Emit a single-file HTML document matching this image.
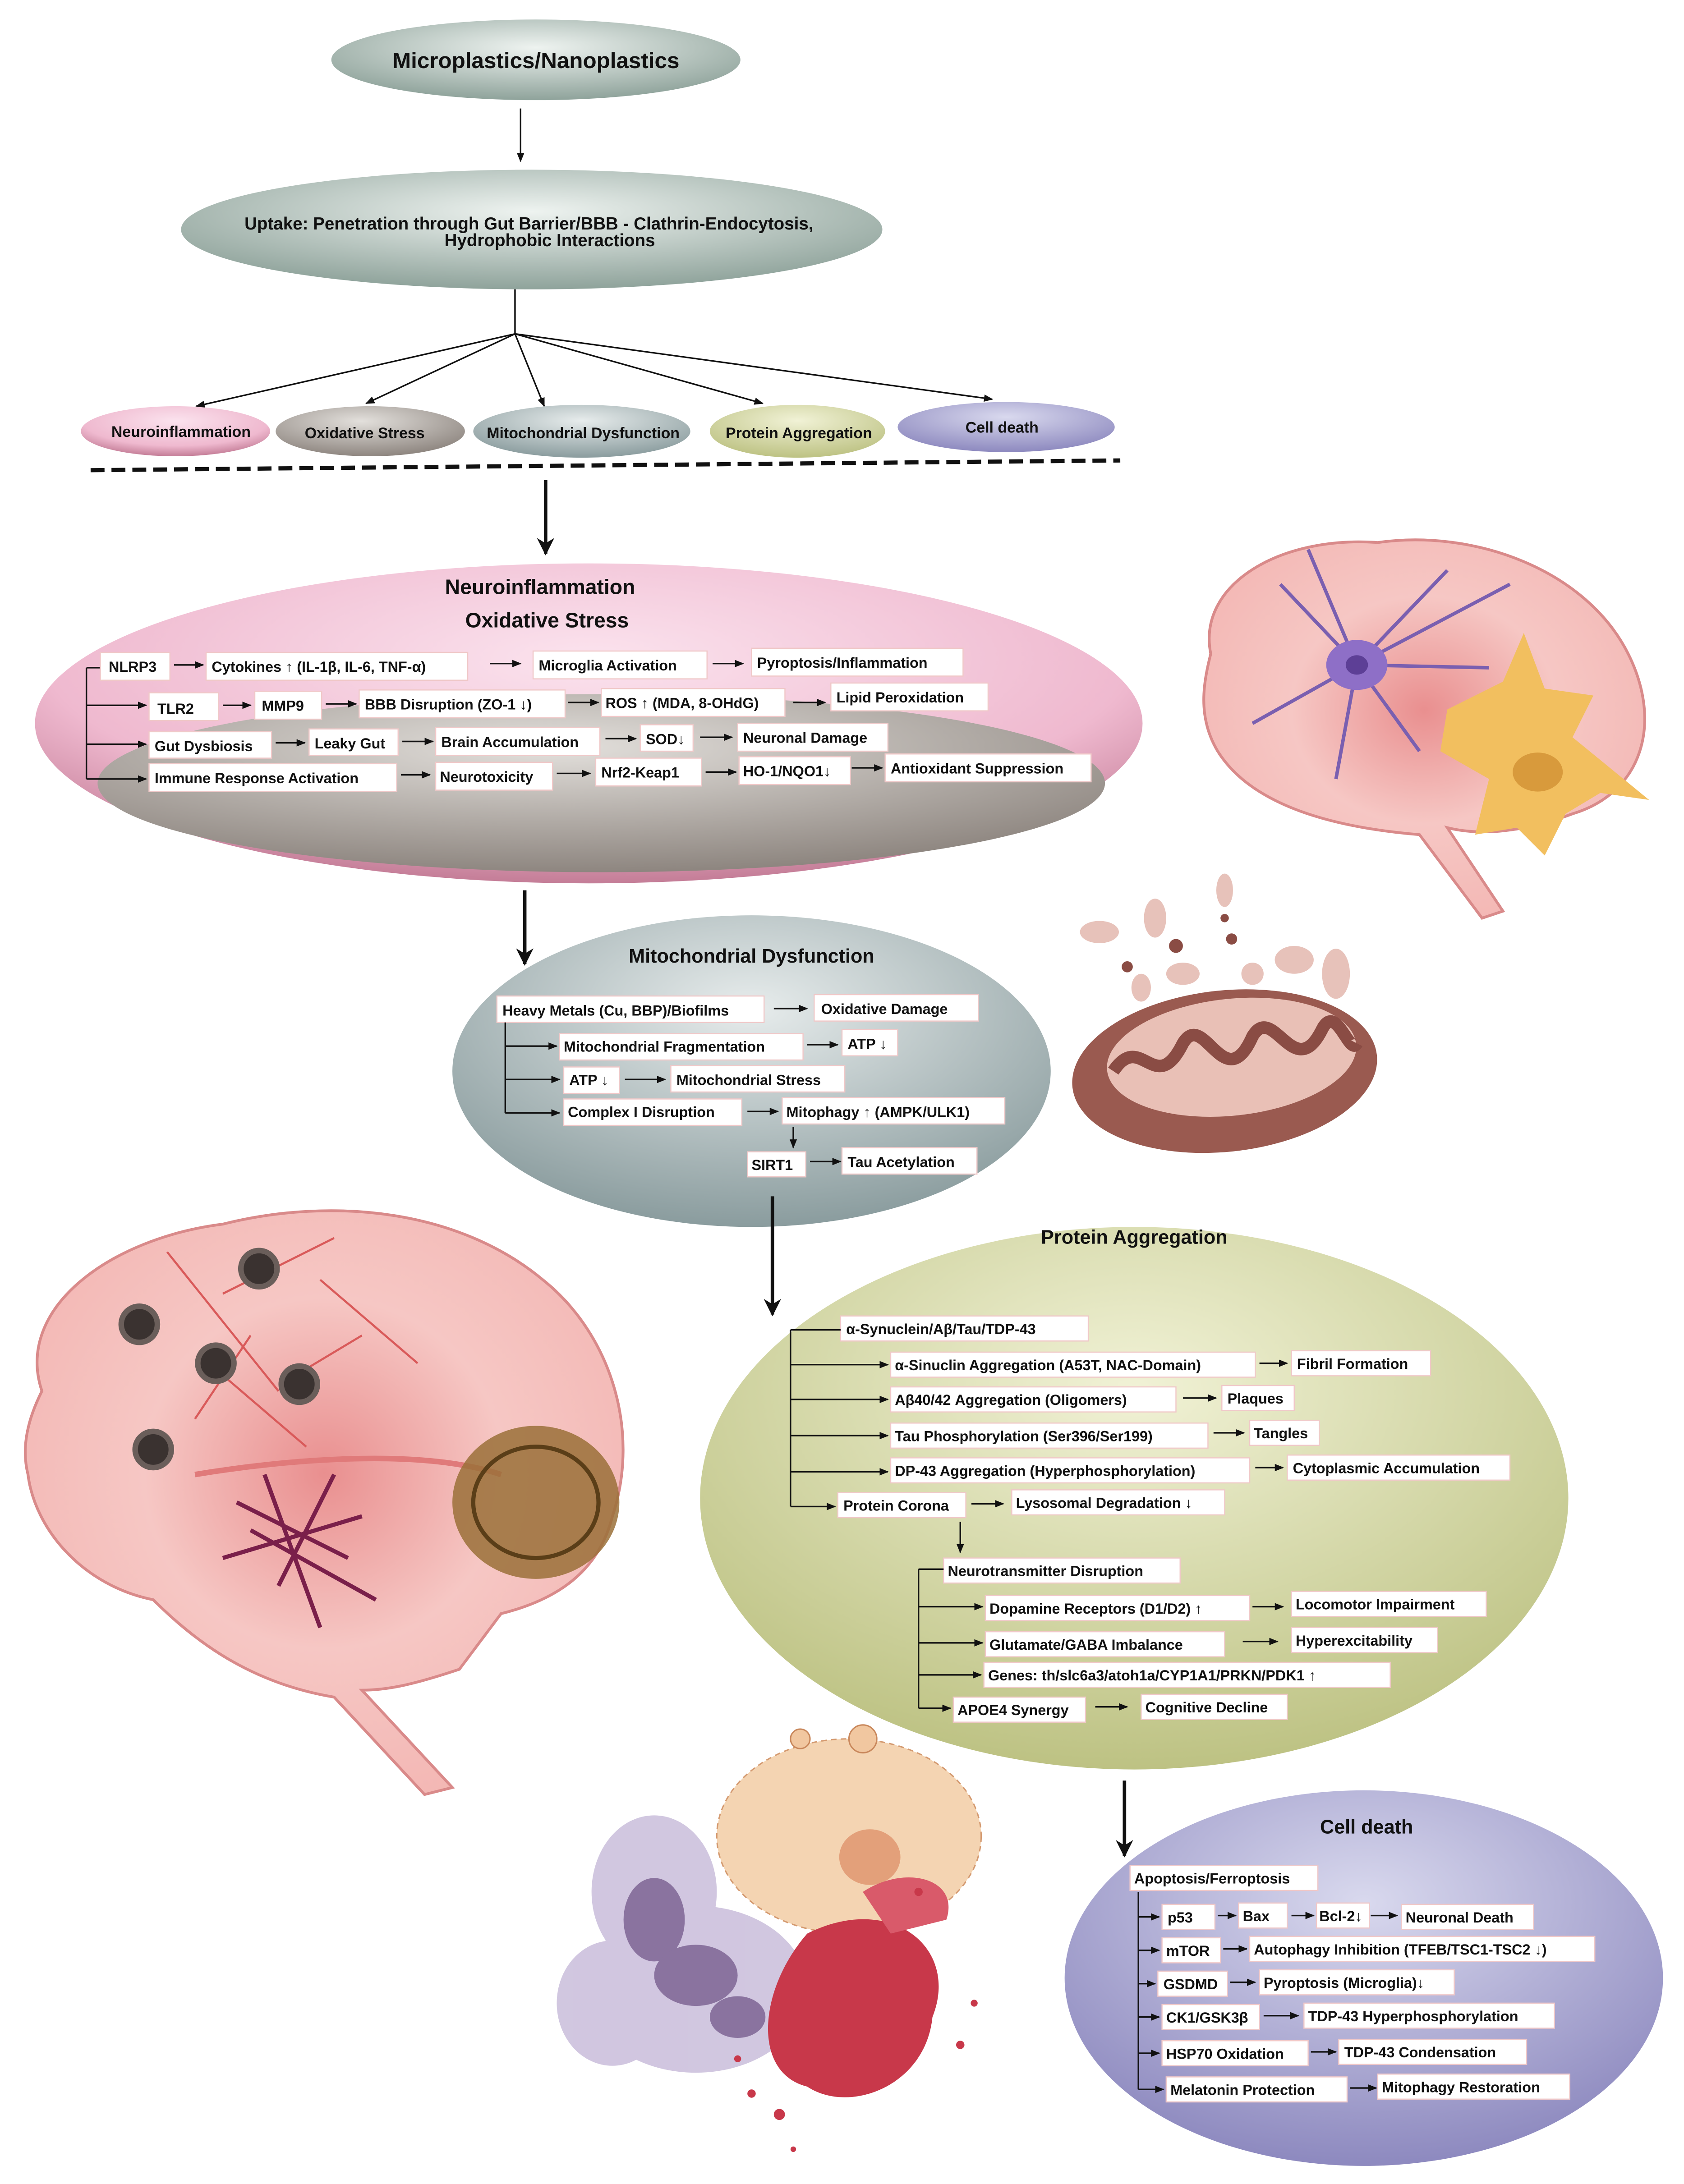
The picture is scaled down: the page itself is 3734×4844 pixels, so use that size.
<!DOCTYPE html>
<html><head><meta charset="utf-8">
<style>
html,body{margin:0;padding:0;background:#fff;}
svg{display:block;}
text{font-family:"Liberation Sans",sans-serif;font-weight:bold;fill:#111;}
.b{fill:#fff;stroke:#f0c8c8;stroke-width:0.8;}
.t{font-size:10.5px;}
.l{stroke:#111;stroke-width:1.1;fill:none;}
</style></head>
<body>
<svg width="3734" height="4844" viewBox="0 0 1210 1570" xmlns="http://www.w3.org/2000/svg">
<defs>
<marker id="a" viewBox="0 0 10 10" refX="9" refY="5" markerWidth="6" markerHeight="6" orient="auto"><path d="M0,1 L10,5 L0,9 z" fill="#111"/></marker>
<marker id="A" viewBox="0 0 10 10" refX="9" refY="5" markerWidth="5" markerHeight="5" orient="auto"><path d="M0,0 L10,5 L0,10 L3,5 z" fill="#111"/></marker>
<radialGradient id="gg" cx="0.5" cy="0.35" r="0.65"><stop offset="0" stop-color="#eef3f0"/><stop offset="1" stop-color="#8fa39b"/></radialGradient>
<radialGradient id="pk" cx="0.5" cy="0.3" r="0.7"><stop offset="0" stop-color="#fbe3ee"/><stop offset="0.7" stop-color="#efb9cf"/><stop offset="1" stop-color="#c47d97"/></radialGradient>
<radialGradient id="gy" cx="0.45" cy="0.3" r="0.7"><stop offset="0" stop-color="#e3e0dc"/><stop offset="1" stop-color="#8e8680"/></radialGradient>
<radialGradient id="bl" cx="0.5" cy="0.3" r="0.7"><stop offset="0" stop-color="#e7ecec"/><stop offset="1" stop-color="#8a9c9e"/></radialGradient>
<radialGradient id="yl" cx="0.5" cy="0.3" r="0.7"><stop offset="0" stop-color="#f1f2d6"/><stop offset="1" stop-color="#bdc283"/></radialGradient>
<radialGradient id="lv" cx="0.5" cy="0.3" r="0.7"><stop offset="0" stop-color="#d9d9ee"/><stop offset="1" stop-color="#8d89bf"/></radialGradient>
<radialGradient id="br" cx="0.5" cy="0.45" r="0.6"><stop offset="0" stop-color="#e98f8f"/><stop offset="0.5" stop-color="#f6c7c4"/><stop offset="1" stop-color="#f3b6b3"/></radialGradient>
</defs>

<!-- top -->
<ellipse cx="385" cy="43" rx="147" ry="29" fill="url(#gg)"/>
<text x="385" y="49" text-anchor="middle" font-size="16">Microplastics/Nanoplastics</text>
<line class="l" x1="374" y1="78" x2="374" y2="116" marker-end="url(#a)"/>
<ellipse cx="382" cy="165" rx="252" ry="43" fill="url(#gg)"/>
<text x="380" y="165" text-anchor="middle" font-size="12.5">Uptake: Penetration through Gut Barrier/BBB - Clathrin-Endocytosis,</text>
<text x="395" y="177" text-anchor="middle" font-size="12.5">Hydrophobic Interactions</text>
<line class="l" x1="370" y1="208" x2="370" y2="240"/>
<line class="l" x1="370" y1="240" x2="141" y2="292" marker-end="url(#a)"/>
<line class="l" x1="370" y1="240" x2="263" y2="290" marker-end="url(#a)"/>
<line class="l" x1="370" y1="240" x2="391" y2="292" marker-end="url(#a)"/>
<line class="l" x1="370" y1="240" x2="548" y2="290" marker-end="url(#a)"/>
<line class="l" x1="370" y1="240" x2="713" y2="287" marker-end="url(#a)"/>

<ellipse cx="126" cy="310" rx="68" ry="18" fill="url(#pk)"/>
<text x="130" y="314" text-anchor="middle" font-size="11">Neuroinflammation</text>
<ellipse cx="266" cy="310" rx="68" ry="18" fill="url(#gy)"/>
<text x="262" y="315" text-anchor="middle" font-size="11">Oxidative Stress</text>
<ellipse cx="418" cy="310" rx="78" ry="19" fill="url(#bl)"/>
<text x="419" y="315" text-anchor="middle" font-size="11">Mitochondrial Dysfunction</text>
<ellipse cx="573" cy="310" rx="63" ry="19" fill="url(#yl)"/>
<text x="574" y="315" text-anchor="middle" font-size="11">Protein Aggregation</text>
<ellipse cx="723" cy="307" rx="78" ry="18" fill="url(#lv)"/>
<text x="720" y="311" text-anchor="middle" font-size="11">Cell death</text>
<line x1="65" y1="338" x2="805" y2="331" stroke="#111" stroke-width="3" stroke-dasharray="10,5"/>
<line x1="392" y1="345" x2="392" y2="398" stroke="#111" stroke-width="2.5" marker-end="url(#A)"/>

<!-- neuro/oxidative -->
<ellipse cx="423" cy="520" rx="398" ry="115" fill="url(#pk)"/>
<ellipse cx="432" cy="563" rx="362" ry="64" fill="url(#gy)"/>
<text x="388" y="427" text-anchor="middle" font-size="15">Neuroinflammation</text>
<text x="393" y="451" text-anchor="middle" font-size="15">Oxidative Stress</text>
<g class="l"><line x1="62" y1="480" x2="62" y2="560"/><line x1="62" y1="480" x2="72" y2="480"/></g>
<line class="l" x1="62" y1="507" x2="105" y2="507" marker-end="url(#a)"/>
<line class="l" x1="62" y1="535" x2="105" y2="535" marker-end="url(#a)"/>
<line class="l" x1="62" y1="560" x2="105" y2="560" marker-end="url(#a)"/>

<rect class="b" x="72" y="469" width="50" height="20"/><text class="t" x="78" y="483">NLRP3</text>
<line class="l" x1="125" y1="478" x2="146" y2="478" marker-end="url(#a)"/>
<rect class="b" x="148" y="469" width="188" height="20"/><text class="t" x="152" y="483">Cytokines ↑ (IL-1β, IL-6, TNF-α)</text>
<line class="l" x1="352" y1="477" x2="374" y2="477" marker-end="url(#a)"/>
<rect class="b" x="383" y="468" width="125" height="20"/><text class="t" x="387" y="482">Microglia Activation</text>
<line class="l" x1="512" y1="477" x2="534" y2="477" marker-end="url(#a)"/>
<rect class="b" x="540" y="466" width="152" height="20"/><text class="t" x="544" y="480">Pyroptosis/Inflammation</text>

<rect class="b" x="107" y="498" width="50" height="20"/><text class="t" x="113" y="513">TLR2</text>
<line class="l" x1="160" y1="507" x2="180" y2="507" marker-end="url(#a)"/>
<rect class="b" x="183" y="497" width="48" height="20"/><text class="t" x="188" y="511">MMP9</text>
<line class="l" x1="234" y1="506" x2="256" y2="506" marker-end="url(#a)"/>
<rect class="b" x="258" y="496" width="148" height="20"/><text class="t" x="262" y="510">BBB Disruption (ZO-1 ↓)</text>
<line class="l" x1="408" y1="505" x2="430" y2="505" marker-end="url(#a)"/>
<rect class="b" x="432" y="495" width="132" height="20"/><text class="t" x="435" y="509">ROS ↑ (MDA, 8-OHdG)</text>
<line class="l" x1="570" y1="505" x2="593" y2="505" marker-end="url(#a)"/>
<rect class="b" x="597" y="491" width="113" height="20"/><text class="t" x="601" y="505">Lipid Peroxidation</text>

<rect class="b" x="107" y="526" width="88" height="19"/><text class="t" x="111" y="540">Gut Dysbiosis</text>
<line class="l" x1="198" y1="534" x2="219" y2="534" marker-end="url(#a)"/>
<rect class="b" x="222" y="524" width="64" height="19"/><text class="t" x="226" y="538">Leaky Gut</text>
<line class="l" x1="289" y1="533" x2="311" y2="533" marker-end="url(#a)"/>
<rect class="b" x="313" y="523" width="118" height="20"/><text class="t" x="317" y="537">Brain Accumulation</text>
<line class="l" x1="435" y1="531" x2="457" y2="531" marker-end="url(#a)"/>
<rect class="b" x="460" y="521" width="38" height="19"/><text class="t" x="464" y="535">SOD↓</text>
<line class="l" x1="503" y1="530" x2="526" y2="530" marker-end="url(#a)"/>
<rect class="b" x="530" y="520" width="108" height="20"/><text class="t" x="534" y="534">Neuronal Damage</text>

<rect class="b" x="107" y="549" width="178" height="20"/><text class="t" x="111" y="563">Immune Response Activation</text>
<line class="l" x1="288" y1="557" x2="309" y2="557" marker-end="url(#a)"/>
<rect class="b" x="313" y="548" width="84" height="20"/><text class="t" x="316" y="562">Neurotoxicity</text>
<line class="l" x1="400" y1="556" x2="424" y2="556" marker-end="url(#a)"/>
<rect class="b" x="428" y="545" width="76" height="20"/><text class="t" x="432" y="559">Nrf2-Keap1</text>
<line class="l" x1="507" y1="555" x2="529" y2="555" marker-end="url(#a)"/>
<rect class="b" x="531" y="544" width="80" height="20"/><text class="t" x="534" y="558">HO-1/NQO1↓</text>
<line class="l" x1="612" y1="552" x2="634" y2="552" marker-end="url(#a)"/>
<rect class="b" x="636" y="542" width="148" height="20"/><text class="t" x="640" y="556">Antioxidant Suppression</text>

<line x1="377" y1="640" x2="377" y2="693" stroke="#111" stroke-width="2.5" marker-end="url(#A)"/>

<!-- brain top right -->
<g>
<path d="M870,470 C860,420 920,385 990,390 C1060,380 1140,410 1170,470 C1195,520 1180,570 1130,585 C1090,600 1060,600 1040,595 L1080,655 L1065,660 L1020,600 C960,595 900,580 875,540 C860,515 865,490 870,470 Z" fill="url(#br)" stroke="#d98a8a" stroke-width="2"/>
<g stroke="#7a5fb0" stroke-width="2.5" fill="none">
<path d="M975,478 L920,420 M975,478 L1040,410 M975,478 L1070,480 M975,478 L900,520 M975,478 L960,560 M975,478 L1020,540 M975,478 L940,395 M975,478 L1085,420"/>
</g>
<ellipse cx="975" cy="478" rx="22" ry="18" fill="#8e6fc7"/>
<ellipse cx="975" cy="478" rx="8" ry="7" fill="#5d3f96"/>
<path d="M1040,510 L1080,490 L1095,455 L1110,495 L1145,500 L1130,530 L1185,575 L1150,570 L1125,585 L1110,615 L1090,595 L1060,600 L1070,560 L1035,540 Z" fill="#f2bf5f"/>
<ellipse cx="1105" cy="555" rx="18" ry="14" fill="#d89a3c"/>
</g>

<!-- mito -->
<ellipse cx="540" cy="770" rx="215" ry="112" fill="url(#bl)"/>
<text x="540" y="692" text-anchor="middle" font-size="14">Mitochondrial Dysfunction</text>
<rect class="b" x="357" y="716" width="192" height="19"/><text class="t" x="361" y="730">Heavy Metals (Cu, BBP)/Biofilms</text>
<line class="l" x1="556" y1="725" x2="580" y2="725" marker-end="url(#a)"/>
<rect class="b" x="585" y="715" width="118" height="19"/><text class="t" x="590" y="729">Oxidative Damage</text>
<line class="l" x1="363" y1="735" x2="363" y2="800"/>
<line class="l" x1="363" y1="752" x2="400" y2="752" marker-end="url(#a)"/>
<line class="l" x1="363" y1="776" x2="402" y2="776" marker-end="url(#a)"/>
<line class="l" x1="363" y1="800" x2="402" y2="800" marker-end="url(#a)"/>
<rect class="b" x="402" y="743" width="175" height="19"/><text class="t" x="405" y="756">Mitochondrial Fragmentation</text>
<line class="l" x1="580" y1="751" x2="602" y2="751" marker-end="url(#a)"/>
<rect class="b" x="605" y="740" width="40" height="19"/><text class="t" x="609" y="754">ATP ↓</text>
<rect class="b" x="405" y="767" width="40" height="19"/><text class="t" x="409" y="780">ATP ↓</text>
<line class="l" x1="449" y1="776" x2="478" y2="776" marker-end="url(#a)"/>
<rect class="b" x="482" y="766" width="125" height="19"/><text class="t" x="486" y="780">Mitochondrial Stress</text>
<rect class="b" x="405" y="790" width="128" height="19"/><text class="t" x="408" y="803">Complex I Disruption</text>
<line class="l" x1="537" y1="799" x2="559" y2="799" marker-end="url(#a)"/>
<rect class="b" x="562" y="789" width="160" height="19"/><text class="t" x="565" y="803">Mitophagy ↑ (AMPK/ULK1)</text>
<line class="l" x1="570" y1="810" x2="570" y2="825" marker-end="url(#a)"/>
<rect class="b" x="537" y="828" width="42" height="18"/><text class="t" x="540" y="841">SIRT1</text>
<line class="l" x1="582" y1="835" x2="604" y2="835" marker-end="url(#a)"/>
<rect class="b" x="605" y="825" width="97" height="19"/><text class="t" x="609" y="839">Tau Acetylation</text>

<!-- mitochondrion drawing -->
<g>
<ellipse cx="880" cy="770" rx="110" ry="58" fill="#9a5a50" transform="rotate(-6 880 770)"/>
<ellipse cx="885" cy="760" rx="90" ry="42" fill="#e9c0b6" transform="rotate(-6 885 760)"/>
<path d="M800,770 C820,740 830,790 850,750 C865,725 880,790 900,745 C915,720 930,780 950,740 C960,720 970,760 975,750" stroke="#8a4c44" stroke-width="9" fill="none"/>
<g fill="#e7c2ba"><ellipse cx="790" cy="670" rx="14" ry="8"/><ellipse cx="830" cy="660" rx="8" ry="14"/><ellipse cx="880" cy="640" rx="6" ry="12"/><ellipse cx="930" cy="690" rx="14" ry="10"/><ellipse cx="960" cy="700" rx="10" ry="18"/><ellipse cx="850" cy="700" rx="12" ry="8"/><ellipse cx="900" cy="700" rx="8" ry="8"/><ellipse cx="820" cy="710" rx="7" ry="10"/></g>
<g fill="#8a4c44"><circle cx="845" cy="680" r="5"/><circle cx="885" cy="675" r="4"/><circle cx="810" cy="695" r="4"/><circle cx="880" cy="660" r="3"/></g>
</g>

<line x1="555" y1="860" x2="555" y2="945" stroke="#111" stroke-width="2.5" marker-end="url(#A)"/>

<!-- left brain -->
<g>
<path d="M30,1000 C10,940 80,890 160,880 C240,860 330,870 390,920 C440,960 460,1030 440,1090 C430,1130 400,1150 360,1160 L330,1200 C300,1210 280,1215 260,1215 L325,1285 L305,1290 L240,1220 C180,1210 140,1180 110,1150 C60,1140 25,1100 20,1060 C15,1040 20,1020 30,1000 Z" fill="url(#br)" stroke="#d98a8a" stroke-width="2"/>
<path d="M140,1060 C200,1050 300,1040 360,1060" stroke="#e07a7a" stroke-width="4" fill="none"/>
<g stroke="#d95a5a" stroke-width="1.5" fill="none"><path d="M120,900 L200,1000 M160,930 L240,890 M180,960 L140,1020 M210,990 L260,960 M230,920 L300,980 M150,980 L220,1040"/></g>
<g fill="#3a3230" stroke="#6a5e5a" stroke-width="4"><circle cx="186" cy="912" r="13"/><circle cx="100" cy="952" r="13"/><circle cx="155" cy="980" r="13"/><circle cx="215" cy="995" r="13"/><circle cx="110" cy="1042" r="13"/></g>
<g stroke="#7a1f4a" stroke-width="3" fill="none"><path d="M170,1080 L250,1120 M190,1060 L230,1170 M160,1120 L260,1090 M200,1140 L240,1060 M180,1100 L270,1150"/></g>
<ellipse cx="385" cy="1080" rx="60" ry="55" fill="#9a7038" opacity="0.85"/>
<ellipse cx="385" cy="1080" rx="45" ry="40" fill="none" stroke="#5a3e18" stroke-width="3"/>
</g>

<!-- protein aggregation -->
<ellipse cx="815" cy="1077" rx="312" ry="195" fill="url(#yl)"/>
<text x="815" y="894" text-anchor="middle" font-size="14">Protein Aggregation</text>
<rect class="b" x="604" y="946" width="178" height="18"/><text class="t" x="608" y="959">α-Synuclein/Aβ/Tau/TDP-43</text>
<line class="l" x1="568" y1="956" x2="604" y2="956"/>
<line class="l" x1="568" y1="956" x2="568" y2="1083"/>
<line class="l" x1="568" y1="981" x2="638" y2="981" marker-end="url(#a)"/>
<line class="l" x1="568" y1="1006" x2="638" y2="1006" marker-end="url(#a)"/>
<line class="l" x1="568" y1="1032" x2="638" y2="1032" marker-end="url(#a)"/>
<line class="l" x1="568" y1="1058" x2="638" y2="1058" marker-end="url(#a)"/>
<line class="l" x1="568" y1="1083" x2="600" y2="1083" marker-end="url(#a)"/>
<rect class="b" x="640" y="972" width="262" height="18"/><text class="t" x="643" y="985">α-Sinuclin Aggregation (A53T, NAC-Domain)</text>
<line class="l" x1="905" y1="980" x2="925" y2="980" marker-end="url(#a)"/>
<rect class="b" x="928" y="971" width="100" height="18"/><text class="t" x="932" y="984">Fibril Formation</text>
<rect class="b" x="640" y="997" width="205" height="18"/><text class="t" x="643" y="1010">Aβ40/42 Aggregation (Oligomers)</text>
<line class="l" x1="850" y1="1005" x2="874" y2="1005" marker-end="url(#a)"/>
<rect class="b" x="878" y="996" width="52" height="18"/><text class="t" x="882" y="1009">Plaques</text>
<rect class="b" x="640" y="1023" width="228" height="18"/><text class="t" x="643" y="1036">Tau Phosphorylation (Ser396/Ser199)</text>
<line class="l" x1="872" y1="1030" x2="894" y2="1030" marker-end="url(#a)"/>
<rect class="b" x="898" y="1021" width="50" height="18"/><text class="t" x="901" y="1034">Tangles</text>
<rect class="b" x="640" y="1048" width="258" height="18"/><text class="t" x="643" y="1061">DP-43 Aggregation (Hyperphosphorylation)</text>
<line class="l" x1="902" y1="1055" x2="922" y2="1055" marker-end="url(#a)"/>
<rect class="b" x="925" y="1046" width="160" height="18"/><text class="t" x="929" y="1059">Cytoplasmic Accumulation</text>
<rect class="b" x="602" y="1073" width="92" height="18"/><text class="t" x="606" y="1086">Protein Corona</text>
<line class="l" x1="698" y1="1081" x2="721" y2="1081" marker-end="url(#a)"/>
<rect class="b" x="727" y="1071" width="153" height="18"/><text class="t" x="730" y="1084">Lysosomal Degradation ↓</text>
<line class="l" x1="690" y1="1094" x2="690" y2="1116" marker-end="url(#a)"/>
<rect class="b" x="678" y="1120" width="170" height="18"/><text class="t" x="681" y="1133">Neurotransmitter Disruption</text>
<line class="l" x1="660" y1="1128" x2="678" y2="1128"/>
<line class="l" x1="660" y1="1128" x2="660" y2="1228"/>
<line class="l" x1="660" y1="1155" x2="706" y2="1155" marker-end="url(#a)"/>
<line class="l" x1="660" y1="1181" x2="706" y2="1181" marker-end="url(#a)"/>
<line class="l" x1="660" y1="1204" x2="705" y2="1204" marker-end="url(#a)"/>
<line class="l" x1="660" y1="1228" x2="683" y2="1228" marker-end="url(#a)"/>
<rect class="b" x="708" y="1147" width="190" height="18"/><text class="t" x="711" y="1160">Dopamine Receptors (D1/D2) ↑</text>
<line class="l" x1="900" y1="1155" x2="922" y2="1155" marker-end="url(#a)"/>
<rect class="b" x="928" y="1144" width="140" height="18"/><text class="t" x="931" y="1157">Locomotor Impairment</text>
<rect class="b" x="708" y="1173" width="172" height="18"/><text class="t" x="711" y="1186">Glutamate/GABA Imbalance</text>
<line class="l" x1="893" y1="1180" x2="918" y2="1180" marker-end="url(#a)"/>
<rect class="b" x="928" y="1170" width="105" height="18"/><text class="t" x="931" y="1183">Hyperexcitability</text>
<rect class="b" x="707" y="1195" width="292" height="18"/><text class="t" x="710" y="1208">Genes: th/slc6a3/atoh1a/CYP1A1/PRKN/PDK1 ↑</text>
<rect class="b" x="685" y="1220" width="95" height="18"/><text class="t" x="688" y="1233">APOE4 Synergy</text>
<line class="l" x1="787" y1="1227" x2="810" y2="1227" marker-end="url(#a)"/>
<rect class="b" x="820" y="1218" width="105" height="18"/><text class="t" x="823" y="1231">Cognitive Decline</text>

<line x1="808" y1="1280" x2="808" y2="1334" stroke="#111" stroke-width="2.5" marker-end="url(#A)"/>

<!-- cells bottom -->
<g>
<g fill="#c9bddb" opacity="0.85"><ellipse cx="470" cy="1360" rx="45" ry="55"/><ellipse cx="500" cy="1430" rx="80" ry="60"/><ellipse cx="440" cy="1440" rx="40" ry="45"/></g>
<g fill="#8a739f"><ellipse cx="470" cy="1380" rx="22" ry="30"/><ellipse cx="500" cy="1420" rx="30" ry="22"/><ellipse cx="530" cy="1450" rx="20" ry="15"/></g>
<ellipse cx="610" cy="1320" rx="95" ry="70" fill="#f4d4b2" stroke="#d49a70" stroke-dasharray="4,3"/>
<ellipse cx="625" cy="1335" rx="22" ry="20" fill="#e3a07a"/>
<circle cx="620" cy="1250" r="10" fill="#f1c7a0" stroke="#c9885c"/>
<circle cx="575" cy="1250" r="7" fill="#f1c7a0" stroke="#c9885c"/>
<path d="M580,1390 C640,1360 690,1400 670,1450 C665,1500 610,1520 580,1500 C540,1490 545,1430 580,1390 Z" fill="#c8384a"/>
<path d="M620,1360 C650,1340 690,1350 680,1380 L640,1390 Z" fill="#d95a6a"/>
<g fill="#c8384a"><circle cx="540" cy="1505" r="3"/><circle cx="560" cy="1520" r="4"/><circle cx="690" cy="1470" r="3"/><circle cx="700" cy="1440" r="2.5"/><circle cx="530" cy="1480" r="2.5"/><circle cx="570" cy="1545" r="2"/><circle cx="660" cy="1360" r="3"/></g>
</g>

<!-- cell death -->
<ellipse cx="980" cy="1422" rx="215" ry="135" fill="url(#lv)"/>
<text x="982" y="1318" text-anchor="middle" font-size="14">Cell death</text>
<rect class="b" x="812" y="1341" width="135" height="18"/><text class="t" x="815" y="1354">Apoptosis/Ferroptosis</text>
<line class="l" x1="818" y1="1360" x2="818" y2="1502"/>
<line class="l" x1="818" y1="1378" x2="833" y2="1378" marker-end="url(#a)"/>
<line class="l" x1="818" y1="1402" x2="833" y2="1402" marker-end="url(#a)"/>
<line class="l" x1="818" y1="1426" x2="830" y2="1426" marker-end="url(#a)"/>
<line class="l" x1="818" y1="1450" x2="833" y2="1450" marker-end="url(#a)"/>
<line class="l" x1="818" y1="1476" x2="833" y2="1476" marker-end="url(#a)"/>
<line class="l" x1="818" y1="1502" x2="836" y2="1502" marker-end="url(#a)"/>
<rect class="b" x="835" y="1369" width="38" height="18"/><text class="t" x="839" y="1382">p53</text>
<line class="l" x1="875" y1="1377" x2="888" y2="1377" marker-end="url(#a)"/>
<rect class="b" x="890" y="1368" width="35" height="18"/><text class="t" x="893" y="1381">Bax</text>
<line class="l" x1="928" y1="1377" x2="944" y2="1377" marker-end="url(#a)"/>
<rect class="b" x="946" y="1368" width="38" height="18"/><text class="t" x="948" y="1381">Bcl-2↓</text>
<line class="l" x1="985" y1="1377" x2="1004" y2="1377" marker-end="url(#a)"/>
<rect class="b" x="1007" y="1369" width="95" height="18"/><text class="t" x="1010" y="1382">Neuronal Death</text>
<rect class="b" x="835" y="1393" width="42" height="18"/><text class="t" x="838" y="1406">mTOR</text>
<line class="l" x1="879" y1="1401" x2="896" y2="1401" marker-end="url(#a)"/>
<rect class="b" x="898" y="1392" width="248" height="18"/><text class="t" x="901" y="1405">Autophagy Inhibition (TFEB/TSC1-TSC2 ↓)</text>
<rect class="b" x="832" y="1417" width="50" height="18"/><text class="t" x="836" y="1430">GSDMD</text>
<line class="l" x1="884" y1="1425" x2="902" y2="1425" marker-end="url(#a)"/>
<rect class="b" x="905" y="1416" width="140" height="18"/><text class="t" x="908" y="1429">Pyroptosis (Microglia)↓</text>
<rect class="b" x="835" y="1441" width="70" height="18"/><text class="t" x="838" y="1454">CK1/GSK3β</text>
<line class="l" x1="908" y1="1449" x2="933" y2="1449" marker-end="url(#a)"/>
<rect class="b" x="937" y="1440" width="180" height="18"/><text class="t" x="940" y="1453">TDP-43 Hyperphosphorylation</text>
<rect class="b" x="835" y="1467" width="105" height="18"/><text class="t" x="838" y="1480">HSP70 Oxidation</text>
<line class="l" x1="942" y1="1475" x2="960" y2="1475" marker-end="url(#a)"/>
<rect class="b" x="962" y="1466" width="135" height="18"/><text class="t" x="966" y="1479">TDP-43 Condensation</text>
<rect class="b" x="838" y="1493" width="130" height="18"/><text class="t" x="841" y="1506">Melatonin Protection</text>
<line class="l" x1="970" y1="1501" x2="989" y2="1501" marker-end="url(#a)"/>
<rect class="b" x="990" y="1491" width="138" height="18"/><text class="t" x="993" y="1504">Mitophagy Restoration</text>
</svg>
</body></html>
